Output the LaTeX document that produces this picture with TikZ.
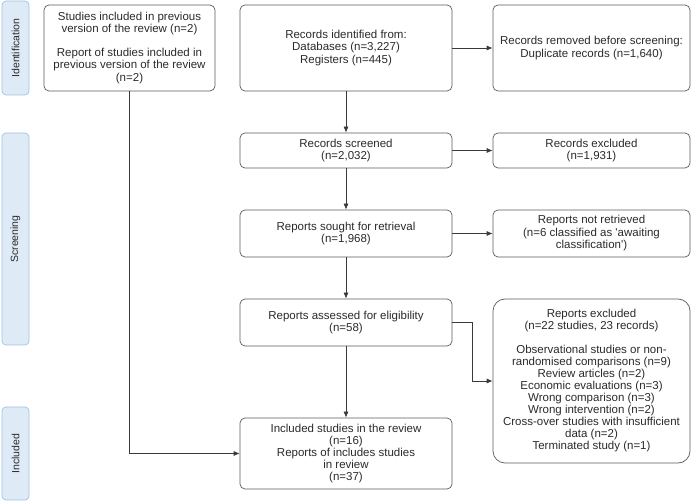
\documentclass[tikz,border=0pt]{standalone}
\usepackage{fontspec}
\setmainfont{Liberation Sans}
\usetikzlibrary{arrows.meta}
\definecolor{sidefill}{HTML}{DEEBF7}
\definecolor{sidedraw}{HTML}{9DC3E6}
\definecolor{boxdraw}{HTML}{5A5A5A}
\definecolor{linec}{HTML}{3A3A3A}
\definecolor{txt}{HTML}{2A2A2A}
\tikzset{
  x=1pt,y=-1pt,
  box/.style={draw=boxdraw,line width=0.7pt,rounded corners=5pt,align=center,inner sep=0pt,
    font=\fontsize{11.5}{12.5}\selectfont,text=txt},
  side/.style={draw=sidedraw,fill=sidefill,line width=0.7pt,rounded corners=4pt,inner sep=0pt,
    minimum width=27pt,text=txt},
  sidetext/.style={rotate=90,font=\fontsize{10.5}{12.5}\selectfont,text=txt},
  arr/.style={draw=linec,line width=0.7pt,-{Latex[length=6pt,width=5pt]}},
  ln/.style={draw=linec,line width=0.7pt}
}
\begin{document}
\begin{tikzpicture}
\useasboundingbox (0,0) rectangle (691,502);
% side labels
\node[side,minimum height=94pt] (sid) at (15.5,48) {};
\node[sidetext] (sidt) at (sid.center) {Identification};
\node[side,minimum height=212pt] (sscr) at (15.5,239) {};
\node[sidetext] (sscrt) at (sscr.center) {Screening};
\node[side,minimum height=93pt] (sinc) at (15.5,453.5) {};
\node[sidetext] (sinct) at (sinc.center) {Included};
% boxes
\node[box,minimum width=171pt,minimum height=86pt] (prev) at (129.5,48)
  {Studies included in previous\\version of the review (n=2)\\[11pt]
   Report of studies included in\\previous version of the review\\(n=2)};
\node[box,minimum width=212pt,minimum height=86pt] (ident) at (346,48)
  {Records identified from:\\Databases (n=3,227)\\Registers (n=445)};
\node[box,minimum width=197pt,minimum height=86pt] (removed) at (591.5,48)
  {Records removed before screening:\\Duplicate records (n=1,640)};
\node[box,minimum width=212pt,minimum height=35pt] (screened) at (346,150.5)
  {Records screened\\(n=2,032)};
\node[box,minimum width=197pt,minimum height=35pt] (excl) at (591.5,150.5)
  {Records excluded\\(n=1,931)};
\node[box,minimum width=212pt,minimum height=47pt] (sought) at (346,233.5)
  {Reports sought for retrieval\\(n=1,968)};
\node[box,minimum width=197pt,minimum height=47pt] (notret) at (591.5,233.5)
  {Reports not retrieved\\(n=6 classified as \textquotesingle awaiting\\classification\textquotesingle)};
\node[box,minimum width=212pt,minimum height=47pt] (assessed) at (346,322.5)
  {Reports assessed for eligibility\\(n=58)};
\node[box,rounded corners=12pt,minimum width=197pt,minimum height=164pt,
  font=\fontsize{11.5}{12}\selectfont] (repexcl) at (591.5,381)
  {Reports excluded\\(n=22 studies, 23 records)\\[12pt]
   Observational studies or non-\\randomised comparisons (n=9)\\Review articles (n=2)\\
   Economic evaluations (n=3)\\Wrong comparison (n=3)\\Wrong intervention (n=2)\\
   Cross-over studies with insufficient\\data (n=2)\\Terminated study (n=1)};
\node[box,minimum width=212pt,minimum height=71pt,font=\fontsize{11.5}{12.2}\selectfont] (incl) at (346,453.5)
  {Included studies in the review\\(n=16)\\Reports of includes studies\\in review\\(n=37)};
% connectors
\draw[arr] (ident) -- (removed);
\draw[arr] (ident) -- (screened);
\draw[arr] (screened) -- (excl);
\draw[arr] (screened) -- (sought);
\draw[arr] (sought) -- (notret);
\draw[arr] (sought) -- (assessed);
\draw[arr] (assessed) -- (incl);
\coordinate (bend1) at (472,322.5);
\coordinate (bend2) at (472,381);
\draw[arr] (assessed.east) -- (bend1) -- (bend2) -- (repexcl.west);
\coordinate (bend3) at (129.5,453.5);
\draw[arr] (prev.south) -- (bend3) -- (incl.west);
\end{tikzpicture}
\end{document}
